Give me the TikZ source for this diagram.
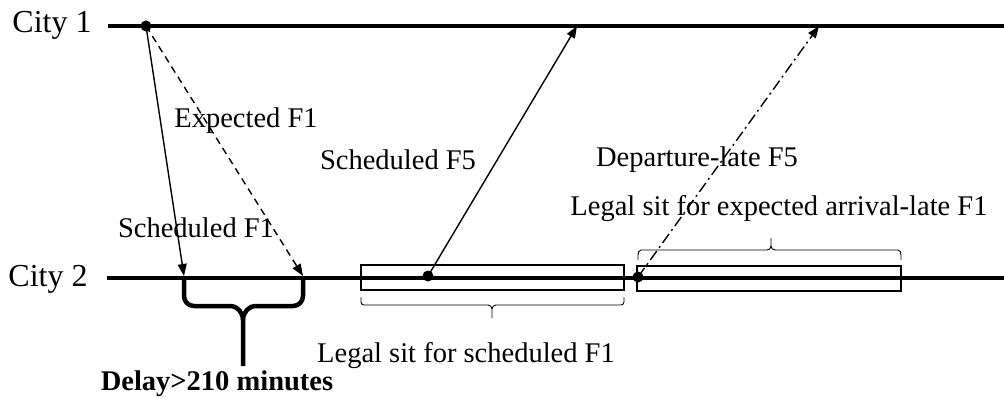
\documentclass[tikz,border=0pt]{standalone}
\usepackage{fontspec}
\setmainfont{Liberation Serif}
\usetikzlibrary{arrows.meta}
\begin{document}
\begin{tikzpicture}[x=1pt,y=-1pt,
  timeline/.style={line width=3.6pt},
  lbl/.style={inner sep=0pt,anchor=base,font=\fontsize{28.5}{30}\selectfont},
  citylbl/.style={inner sep=0pt,anchor=base,font=\fontsize{32}{34}\selectfont},
  flight/.style={line width=1.4pt,-{Triangle[length=12pt,width=9pt]}},
  dot/.style={circle,fill=black,inner sep=0pt,minimum size=11pt},
  legal/.style={draw,line width=1.4pt,inner sep=0pt},
  thinbrace/.style={line width=0.9pt},
  delaybrace/.style={line width=4.5pt,line join=round}]
\useasboundingbox (0,0) rectangle (1004,398);
% timelines
\coordinate (c1s) at (108,26);
\coordinate (c1e) at (1004,26);
\coordinate (c2s) at (107,278);
\coordinate (c2e) at (1004,278);
\draw[timeline] (c1s) -- (c1e);
\draw[timeline] (c2s) -- (c2e);
\node[citylbl] (city1) at (52,33) {City 1};
\node[citylbl] (city2) at (48,287) {City 2};
% legal sit boxes
\node[legal,minimum width=263pt,minimum height=25pt] (box1) at (492.5,277.5) {};
\node[legal,minimum width=264pt,minimum height=25pt] (box2) at (769,278.5) {};
% dots
\node[dot] (d1) at (146,26) {};
\node[dot] (d2) at (428,276) {};
\node[dot] (d3) at (638,277) {};
% arrival points
\coordinate (schF1) at (184,276);
\coordinate (expF1) at (303,276);
\coordinate (arrF5) at (577,26);
\coordinate (arrF5late) at (819,26);
% flights
\draw[flight] (d1.center) -- (schF1);
\draw[flight,dash pattern=on 7pt off 5pt] (d1.center) -- (expF1);
\draw[flight] (d2.center) -- (arrF5);
\draw[flight,dash pattern=on 11pt off 4pt on 2pt off 4pt] (d3.center) -- (arrF5late);
% delay brace
\coordinate (db) at (243,366);
\draw[delaybrace] (schF1) -- (184,296) to[out=-90,in=180] (194,306) -- (230,306) to[out=0,in=90] (243,320) -- (db);
\draw[delaybrace] (expF1) -- (303,296) to[out=-90,in=0] (293,306) -- (256,306) to[out=180,in=90] (243,320);
% thin brace under box1
\draw[thinbrace] (361,297) -- (361,302) to[out=-90,in=180] (364,305) -- (488,305) to[out=0,in=90] (492,309) -- (492,318);
\draw[thinbrace] (624,297) -- (624,302) to[out=-90,in=0] (621,305) -- (496,305) to[out=180,in=90] (492,309);
% thin brace above box2
\draw[thinbrace] (638,260) -- (638,255) to[out=90,in=180] (641,250) -- (767,250) to[out=0,in=-90] (771,246) -- (771,238);
\draw[thinbrace] (901,260) -- (901,255) to[out=90,in=0] (898,250) -- (775,250) to[out=180,in=-90] (771,246);
% labels
\node[lbl] (lexp) at (246,128) {Expected F1};
\node[lbl] (lsch1) at (196,238) {Scheduled F1};
\node[lbl] (lsch5) at (398,170) {Scheduled F5};
\node[lbl] (ldep) at (697,167) {Departure-late F5};
\node[lbl] (llexp) at (779,215) {Legal sit for expected arrival-late F1};
\node[lbl] (llsch) at (466,362) {Legal sit for scheduled F1};
\node[lbl,font=\fontsize{28.5}{30}\selectfont\bfseries] (ldelay) at (217,390) {Delay>210 minutes};
\end{tikzpicture}
\end{document}
